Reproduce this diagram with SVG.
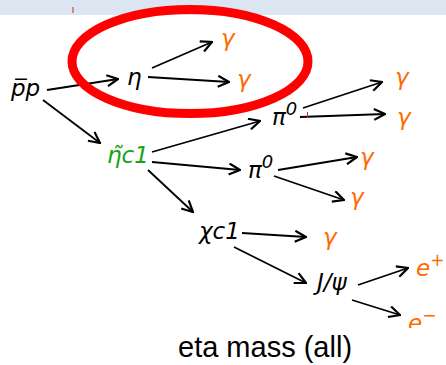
<svg xmlns="http://www.w3.org/2000/svg" width="446" height="365" viewBox="0 0 446 365">
<style>
.m{font-family:"DejaVu Sans",sans-serif;font-style:italic;font-size:23px;fill:#000}
.o{fill:#ff6a00}
.g{fill:#16a316}
.c{font-family:"Liberation Sans",Arial,sans-serif;font-size:29px;fill:#000}
.a{stroke:#000;stroke-width:1.8;fill:none;marker-end:url(#ah)}
</style>
<defs>
<marker id="ah" viewBox="0 0 13 13" refX="12" refY="6.5" markerWidth="13" markerHeight="13" markerUnits="userSpaceOnUse" orient="auto">
<path d="M1,1 L12,6.5 L1,12" fill="none" stroke="#000" stroke-width="2.2"/>
</marker>
<clipPath id="clipb"><rect x="0" y="0" width="446" height="328"/></clipPath>
</defs>
<rect x="0" y="0" width="446" height="15" fill="#dce6f2"/>
<rect x="72.5" y="7" width="1" height="6" fill="#e02020"/>
<g id="connectors">
<line class="a" x1="47" y1="90" x2="118" y2="79"/>
<line class="a" x1="152" y1="68" x2="212" y2="42"/>
<line class="a" x1="148" y1="77" x2="229" y2="82"/>
<line class="a" x1="43" y1="100" x2="100" y2="143"/>
<line class="a" x1="152" y1="152" x2="260" y2="121"/>
<line class="a" x1="303" y1="108" x2="382" y2="82"/>
<line class="a" x1="300" y1="117" x2="385" y2="114"/>
<line class="a" x1="152" y1="162" x2="240" y2="170"/>
<line class="a" x1="278" y1="170" x2="357" y2="157"/>
<line class="a" x1="274" y1="176" x2="344" y2="200"/>
<line class="a" x1="148" y1="170" x2="193" y2="212"/>
<line class="a" x1="242" y1="233" x2="306" y2="237"/>
<line class="a" x1="234" y1="247" x2="306" y2="283"/>
<line class="a" x1="358" y1="285" x2="408" y2="268"/>
<line class="a" x1="352" y1="300" x2="400" y2="315"/>
</g>
<rect x="307" y="112" width="1" height="6" fill="#e02020"/>
<g id="pp"><text class="m" x="11" y="96">p̅p</text></g>
<g id="eta"><text class="m" x="127" y="85">η</text></g>
<g id="gamma1"><text class="m o" x="221" y="46">γ</text></g>
<g id="gamma2"><text class="m o" x="237" y="87">γ</text></g>
<g id="etac1"><text class="m g" x="107" y="163">η̃c1</text></g>
<g id="pi0a"><text class="m" x="272" y="125">π<tspan font-size="18" dy="-10">0</tspan></text></g>
<g id="gamma3"><text class="m o" x="395" y="85">γ</text></g>
<g id="gamma4"><text class="m o" x="397" y="125">γ</text></g>
<g id="pi0b"><text class="m" x="248" y="178">π<tspan font-size="18" dy="-10">0</tspan></text></g>
<g id="gamma5"><text class="m o" x="360" y="165">γ</text></g>
<g id="gamma6"><text class="m o" x="350" y="205">γ</text></g>
<g id="chic1"><text class="m" x="199" y="239">χc1</text></g>
<g id="gamma7"><text class="m o" x="323" y="245">γ</text></g>
<g id="jpsi"><text class="m" x="317" y="290">J/ψ</text></g>
<g id="eplus"><text class="m o" x="416" y="276">e<tspan font-size="17" dy="-10">+</tspan></text></g>
<g id="eminus" clip-path="url(#clipb)"><text class="m o" x="408" y="331">e<tspan font-size="17" dy="-10">−</tspan></text></g>
<g id="highlight"><ellipse cx="190" cy="61.5" rx="118" ry="52" fill="none" stroke="#ff0000" stroke-width="9"/></g>
<g id="caption"><text class="c" x="178" y="357">eta mass (all)</text></g>
</svg>
